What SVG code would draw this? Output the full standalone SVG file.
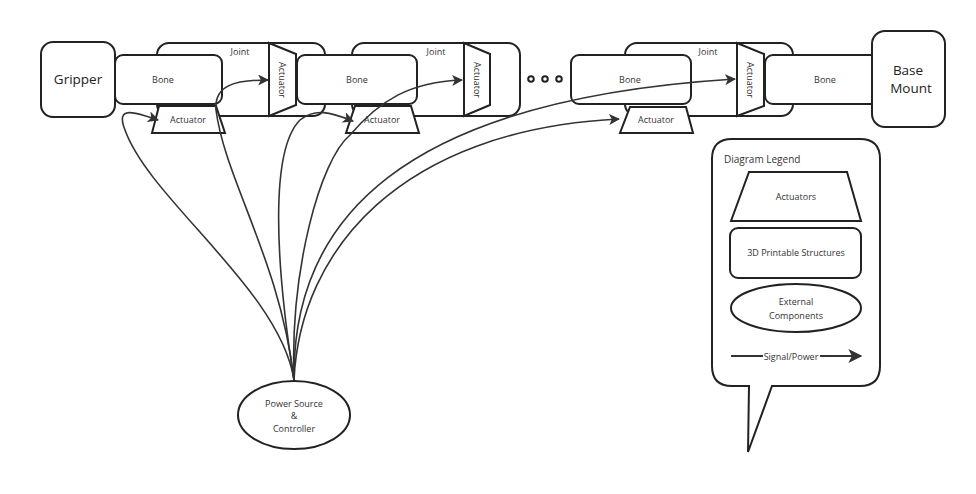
<svg xmlns="http://www.w3.org/2000/svg" width="976" height="494" viewBox="0 0 976 494">
<defs>
<style>
.s{fill:#fff;stroke:#222;stroke-width:2}
.t{font-family:"Open Sans","Liberation Sans",sans-serif;font-size:9px;fill:#333;text-anchor:middle;dominant-baseline:central}
.big{font-size:13.5px;fill:#222}
.c{fill:none;stroke:#333;stroke-width:1.6}
</style>
<marker id="ah" viewBox="0 0 10 10" refX="9" refY="5" markerWidth="11" markerHeight="11" markerUnits="userSpaceOnUse" orient="auto">
<path d="M0,0 L10,5 L0,10 L2.5,5 Z" fill="#333"/>
</marker>
<marker id="ah2" viewBox="0 0 10 10" refX="9" refY="5" markerWidth="14" markerHeight="14" markerUnits="userSpaceOnUse" orient="auto">
<path d="M0,0 L10,5 L0,10 L2.5,5 Z" fill="#333"/>
</marker>
</defs>
<rect width="976" height="494" fill="#fff"/>
<g id="gripper"><rect class="s" x="41" y="42" width="74" height="75" rx="12"/><text class="t big" x="78" y="79">Gripper</text></g>
<g id="joint1"><rect class="s" x="157" y="43" width="168" height="73" rx="12"/><text class="t" x="240" y="51">Joint</text></g>
<g id="bone1"><rect class="s" x="115" y="55" width="107" height="49" rx="8"/><text class="t" x="163" y="79">Bone</text></g>
<g id="actuator1b"><polygon class="s" points="159,106 216,106 225,133 152,133"/><text class="t" x="188" y="119">Actuator</text></g>
<g id="actuator1v"><polygon class="s" points="269,43 296,54 296,105 269,116"/><text class="t" transform="translate(282,80) rotate(90)">Actuator</text></g>
<g id="joint2"><rect class="s" x="352" y="43" width="168" height="73" rx="12"/><text class="t" x="436" y="51">Joint</text></g>
<g id="bone2"><rect class="s" x="297" y="55" width="120" height="49" rx="8"/><text class="t" x="357" y="79">Bone</text></g>
<g id="actuator2b"><polygon class="s" points="355,106 411,106 419,133 346,133"/><text class="t" x="382" y="119">Actuator</text></g>
<g id="actuator2v"><polygon class="s" points="464,43 490,54 490,105 464,116"/><text class="t" transform="translate(477,80) rotate(90)">Actuator</text></g>
<g id="dots" fill="#fff" stroke="#222" stroke-width="2"><circle cx="531" cy="79" r="2.8"/><circle cx="545" cy="79" r="2.8"/><circle cx="559" cy="79" r="2.8"/></g>
<g id="joint3"><rect class="s" x="625" y="43" width="168" height="73" rx="12"/><text class="t" x="708" y="51">Joint</text></g>
<g id="bone3"><rect class="s" x="571" y="55" width="120" height="49" rx="8"/><text class="t" x="630" y="79">Bone</text></g>
<g id="actuator3b"><polygon class="s" points="630,107 686,107 693,133 620,133"/><text class="t" x="656" y="119">Actuator</text></g>
<g id="actuator3v"><polygon class="s" points="737,43 764,54 764,106 737,116"/><text class="t" transform="translate(750,80) rotate(90)">Actuator</text></g>
<g id="bone4"><rect class="s" x="765" y="55" width="120" height="49" rx="8"/><text class="t" x="825" y="79">Bone</text></g>
<g id="base"><rect class="s" x="872" y="31" width="73" height="96" rx="13"/><text class="t big" x="908" y="70">Base</text><text class="t big" x="911" y="88">Mount</text></g>
<g id="power"><ellipse class="s" cx="294" cy="415" rx="56" ry="34"/><text class="t" x="294" y="403">Power Source</text><text class="t" x="294" y="415">&amp;</text><text class="t" x="294" y="428">Controller</text></g>
<g id="connectors">
<path class="c" marker-end="url(#ah)" d="M294,380 C 280,290 150,200 125,130 C 115,105 135,112 158,120"/>
<path class="c" marker-end="url(#ah)" d="M294,380 C 280,260 225,180 216,110 C 214,85 235,80 268,80"/>
<path class="c" marker-end="url(#ah)" d="M294,380 C 275,260 270,150 300,120 C 315,108 330,112 353,121"/>
<path class="c" marker-end="url(#ah)" d="M294,380 C 290,270 320,160 350,135 C 380,100 410,82 462,80"/>
<path class="c" marker-end="url(#ah)" d="M294,380 C 300,250 400,130 619,119"/>
<path class="c" marker-end="url(#ah)" d="M294,380 C 292,220 400,100 735,79"/>
</g>
<g id="legend">
<path class="s" d="M732,139 H860 Q880,139 880,159 V366 Q880,386 860,386 H772 L748,452 L749,386 H732 Q712,386 712,366 V159 Q712,139 732,139 Z"/>
<text class="t" x="724" y="159" style="text-anchor:start;font-size:10px">Diagram Legend</text>
<polygon class="s" points="749,172 847,172 861,221 731,221"/>
<text class="t" x="796" y="196">Actuators</text>
<rect class="s" x="730" y="228" width="131" height="50" rx="8"/>
<text class="t" x="796" y="252">3D Printable Structures</text>
<ellipse class="s" cx="796" cy="308" rx="65" ry="24"/>
<text class="t" x="796" y="301">External</text>
<text class="t" x="796" y="315">Components</text>
<line x1="731" y1="356" x2="861" y2="356" stroke="#333" stroke-width="2" marker-end="url(#ah2)"/>
<rect x="763" y="350" width="57" height="12" fill="#fff"/>
<text class="t" x="791" y="356">Signal/Power</text>
</g>
</svg>
